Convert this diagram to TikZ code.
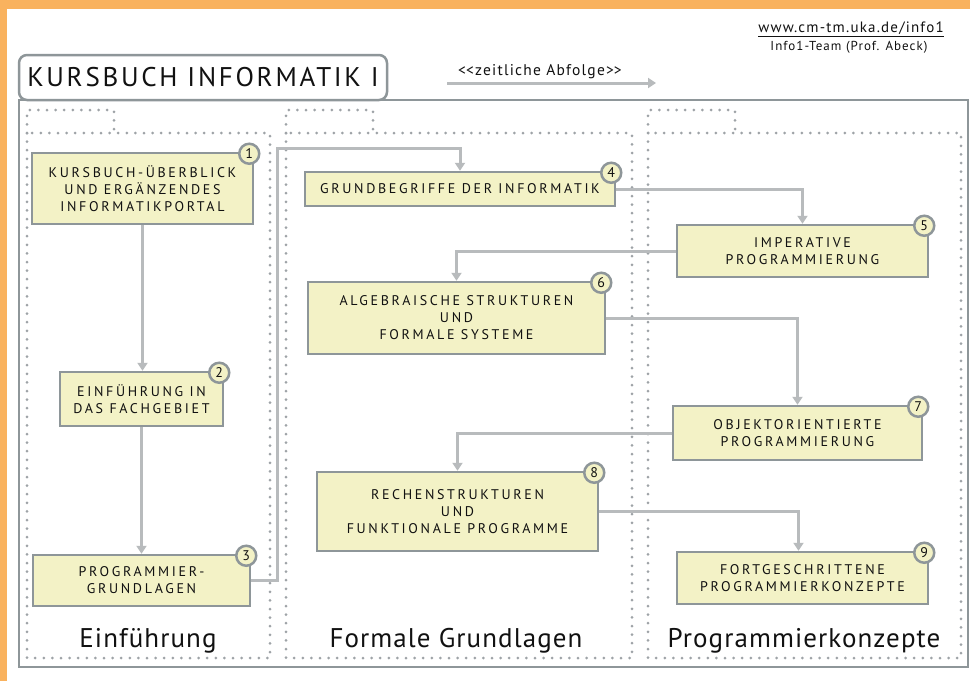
\documentclass[tikz,border=0pt]{standalone}
\usepackage{fontspec}
\setmainfont{PT Sans}
\newfontfamily\spacedfont[LetterSpace=19]{PT Sans}
\newfontfamily\titlefont[LetterSpace=10]{PT Sans}
\newfontfamily\labelfont[LetterSpace=4]{PT Sans}
\newfontfamily\smallfont[LetterSpace=8]{PT Sans}
\usetikzlibrary{arrows.meta}

\definecolor{kbOrange}{HTML}{F9B25E}
\definecolor{kbFrame}{HTML}{8E9699}
\definecolor{kbArrow}{HTML}{B8BBBD}
\definecolor{kbDots}{HTML}{9EA3A7}
\definecolor{kbFill}{HTML}{F3F2C6}
\definecolor{kbText}{HTML}{111111}

\tikzset{
  kbox/.style={draw=kbFrame, line width=2.5pt, fill=kbFill, align=center,
    inner sep=0pt, text=kbText, font=\spacedfont\fontsize{14}{17}\selectfont},
  numc/.style={circle, draw=kbFrame, line width=2.5pt, fill=kbFill,
    minimum size=20pt, inner sep=0pt, text=kbText, font=\fontsize{14}{14}\selectfont},
  flow/.style={draw=kbArrow, line width=3pt, -{Triangle[width=10pt,length=8pt]}},
  dotline/.style={draw=kbDots, line width=3pt, line cap=round,
    dash pattern=on 0pt off 8.6pt},
  collabel/.style={anchor=base, text=kbText, font=\labelfont\fontsize{27}{27}\selectfont}
}

\begin{document}
\begin{tikzpicture}[x=1pt, y=-1pt]
    % page and orange edge
    \fill[kbOrange] (0,0) rectangle (970,681);
    \fill[white] (7,9) rectangle (970,681);
    \useasboundingbox (0,0) rectangle (970,681);

    % header
    \draw[kbFrame, line width=2.5pt] (19,100) rectangle (968,667);
    \node[draw=kbFrame, line width=2.5pt, fill=white, rounded corners=8pt,
      minimum width=368pt, minimum height=45pt, inner sep=0pt, text=kbText,
      font=\titlefont\fontsize{27}{27}\selectfont] (title) at (203,77.5) {KURSBUCH INFORMATIK I};
    \node[text=kbText, font=\smallfont\fontsize{15.5}{15.5}\selectfont] (zeit) at (540,72)
        {<\kern0pt<zeitliche Abfolge>\kern0pt>};
    \coordinate (zA) at (447,83);
    \coordinate (zB) at (656,83);
    \draw[flow] (zA) -- (zB);
    \node[text=kbText, font=\smallfont\fontsize{15}{15}\selectfont, inner sep=0pt] (url) at (851,29)
        {\underline{www.cm-tm.uka.de/info1}};
    \node[text=kbText, font=\smallfont\fontsize{13}{13}\selectfont, inner sep=0pt] (team) at (849,47)
        {Info1-Team (Prof. Abeck)};

    % columns
    \foreach \xa/\xb/\xt in {27/270/114, 286/632/373, 648/961/735} {
        \draw[dotline] (\xa,133) rectangle (\xb,658);
        \draw[dotline] (\xa,133) -- (\xa,110) -- (\xt,110) -- (\xt,133);
    }
    \node[collabel] (col1) at (148,647) {Einführung};
    \node[collabel] (col2) at (456,647) {Formale Grundlagen};
    \node[collabel] (col3) at (804,647) {Programmierkonzepte};

    % course units
    \node[kbox, minimum width=221pt, minimum height=71pt] (b1) at (142.5,188.5)
        {KURSBUCH-ÜBERBLICK\\UND ERGÄNZENDES\\INFORMATIKPORTAL};
    \node[kbox, minimum width=163pt, minimum height=54pt] (b2) at (141.5,399)
        {EINFÜHRUNG IN\\DAS FACHGEBIET};
    \node[kbox, minimum width=217pt, minimum height=51pt] (b3) at (141.5,580.5)
        {PROGRAMMIER-\\GRUNDLAGEN};
    \node[kbox, minimum width=310pt, minimum height=34pt] (b4) at (460,189)
        {GRUNDBEGRIFFE DER INFORMATIK};
    \node[kbox, minimum width=251pt, minimum height=52pt] (b5) at (802.5,251)
        {IMPERATIVE\\PROGRAMMIERUNG};
    \node[kbox, minimum width=297pt, minimum height=72pt] (b6) at (456.5,318)
        {ALGEBRAISCHE STRUKTUREN\\UND\\FORMALE SYSTEME};
    \node[kbox, minimum width=249pt, minimum height=54pt] (b7) at (797.5,433)
        {OBJEKTORIENTIERTE\\PROGRAMMIERUNG};
    \node[kbox, minimum width=281pt, minimum height=79pt] (b8) at (457.5,511.5)
        {RECHENSTRUKTUREN\\UND\\FUNKTIONALE PROGRAMME};
    \node[kbox, minimum width=251pt, minimum height=52pt] (b9) at (802.5,578)
        {FORTGESCHRITTENE\\PROGRAMMIERKONZEPTE};

    \foreach \i in {1,...,9}
        \node[numc] (n\i) at ([xshift=-5pt, yshift=-2pt]b\i.north east) {\i};

    % sequence
    \coordinate (k34) at (277,148);
    \draw[flow] (b1.south) -- (b1.south |- b2.north);
    \draw[flow] (b2.south) -- (b2.south |- b3.north);
    \draw[flow] (b3.east) -| (k34) -| (b4.north);
    \draw[flow] (b4.east) -| (b5.north);
    \draw[flow] (b5.west) -| (b6.north);
    \draw[flow] (b6.east) -| (b7.north);
    \draw[flow] (b7.west) -| (b8.north);
    \draw[flow] (b8.east) -| ([xshift=-4pt]b9.north);
\end{tikzpicture}
\end{document}
